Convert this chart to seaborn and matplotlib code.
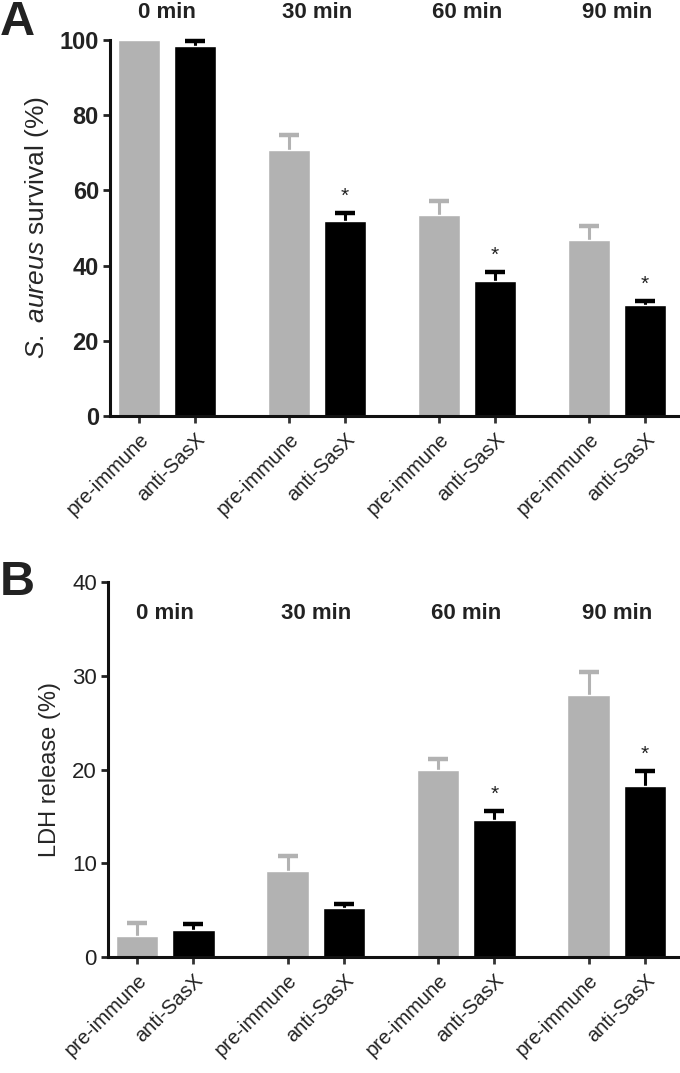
import matplotlib
matplotlib.use('Agg')
import matplotlib.pyplot as plt
import seaborn as sns
import pandas as pd
import numpy as np

# data
times = ['0 min', '30 min', '60 min', '90 min']
groups = ['pre-immune', 'anti-SasX']

surv_pre = [100.0, 70.7, 53.4, 46.7]
surv_pre_err = [0.0, 4.0, 3.9, 3.8]
surv_anti = [98.5, 51.9, 35.8, 29.4]
surv_anti_err = [1.2, 2.2, 2.5, 1.2]
surv_star = [False, True, True, True]

ldh_pre = [2.2, 9.2, 20.0, 28.0]
ldh_pre_err = [1.4, 1.6, 1.1, 2.4]
ldh_anti = [2.9, 5.2, 14.6, 18.2]
ldh_anti_err = [0.6, 0.5, 1.0, 1.6]
ldh_star = [False, False, True, True]

grey = '#b2b2b2'
black = '#000000'
txt = '#222222'

sns.set_style('ticks')
plt.rcParams['font.family'] = ['Liberation Sans', 'DejaVu Sans']
plt.rcParams['mathtext.fontset'] = 'custom'
plt.rcParams['mathtext.it'] = 'Liberation Sans:italic'
plt.rcParams['mathtext.rm'] = 'Liberation Sans'
plt.rcParams['text.color'] = txt
plt.rcParams['xtick.color'] = txt
plt.rcParams['ytick.color'] = txt

fig = plt.figure(figsize=(6.8, 10.73), dpi=100)
axA = fig.add_axes([110 / 680, 1 - 416 / 1073, 570 / 680, 376 / 1073])
axB = fig.add_axes([108 / 680, 1 - 957 / 1073, 572 / 680, 375 / 1073])


def panel(ax, pre, pre_err, anti, anti_err, stars, ymax, yticks, tick_bold, tick_fs):
    df = pd.DataFrame({
        'time': times * 2,
        'group': [groups[0]] * 4 + [groups[1]] * 4,
        'value': pre + anti,
    })
    sns.barplot(data=df, x='time', y='value', hue='group', order=times, hue_order=groups,
                palette=[grey, black], width=0.75, gap=0.25, errorbar=None,
                saturation=1, legend=False, ax=ax)
    centers = []
    for cont, vals, errs, col in zip(list(ax.containers), [pre, anti], [pre_err, anti_err], [grey, black]):
        xs = [p.get_x() + p.get_width() / 2 for p in cont]
        centers.append(xs)
        keep = [i for i, e in enumerate(errs) if e > 0]
        eb = ax.errorbar([xs[i] for i in keep], [vals[i] for i in keep],
                         yerr=[np.zeros(len(keep)), [errs[i] for i in keep]],
                         fmt='none', ecolor=col, elinewidth=2.2, capsize=7, capthick=3.2,
                         clip_on=False, zorder=0.5)
        eb[1][0].set_visible(False)  # lower cap hidden, only upper whisker
    # significance stars
    for x, v, e, s in zip(centers[1], anti, anti_err, stars):
        if s:
            ax.annotate('*', xy=(x, v + e), xytext=(0, 12), textcoords='offset points',
                        ha='center', va='center', fontsize=15, color=txt)
    ticks = [c for pair in zip(centers[0], centers[1]) for c in pair]
    ax.set_xticks(ticks)
    ax.set_xticklabels(groups * 4, rotation=45, ha='right', rotation_mode='anchor', fontsize=14.5)
    ax.set_xlim(-0.38, 3.42)
    ax.set_ylim(0, ymax)
    ax.set_yticks(yticks)
    ax.set_yticklabels([str(t) for t in yticks], fontsize=tick_fs,
                       fontweight='bold' if tick_bold else 'normal')
    ax.set_xlabel('')
    for side in ['top', 'right']:
        ax.spines[side].set_visible(False)
    for side in ['left', 'bottom']:
        ax.spines[side].set_linewidth(2.2)
        ax.spines[side].set_color('#111111')
    ax.tick_params(axis='y', length=5, width=2, pad=3)
    ax.tick_params(axis='x', length=5, width=2, pad=5, color='#333333')


panel(axA, surv_pre, surv_pre_err, surv_anti, surv_anti_err, surv_star,
      100, [0, 20, 40, 60, 80, 100], True, 17)
panel(axB, ldh_pre, ldh_pre_err, ldh_anti, ldh_anti_err, ldh_star,
      40, [0, 10, 20, 30, 40], False, 16)

axA.set_ylabel(r'$\mathit{S.\ aureus}$ survival (%)', fontsize=19, labelpad=6)
axB.set_ylabel('LDH release (%)', fontsize=17, labelpad=8)

for i, t in enumerate(times):
    axA.annotate(t, xy=(i, 1), xycoords=('data', 'axes fraction'), xytext=(0, 20),
                 textcoords='offset points', ha='center', va='center',
                 fontsize=16, fontweight='bold')
    axB.text(i, 36.6, t, ha='center', va='center', fontsize=16, fontweight='bold')

fig.text(0.0, 1.0, 'A', ha='left', va='top', fontsize=35, fontweight='bold', color=txt)
fig.text(0.0, 1 - 560 / 1073, 'B', ha='left', va='top', fontsize=35, fontweight='bold', color=txt)

fig.savefig('out.png', dpi=100)
